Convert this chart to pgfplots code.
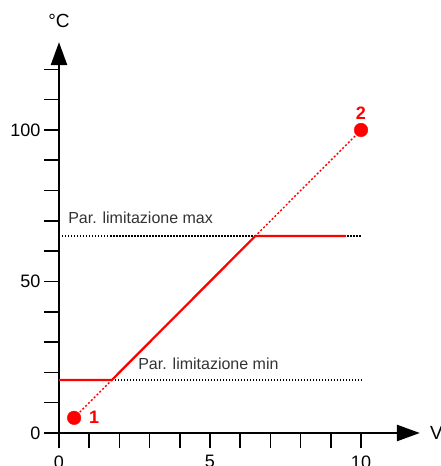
\documentclass[border=0pt]{standalone}
\usepackage{pgfplots}
\pgfplotsset{compat=1.18}
\usepackage{fontspec}
\setmainfont{Liberation Sans}
\usetikzlibrary{arrows.meta}
\definecolor{lbl}{HTML}{333333}
\begin{document}
\begin{tikzpicture}
\useasboundingbox (-59pt,-33pt) rectangle (381pt,433pt);
\begin{axis}[
  at={(0,0)}, anchor=south west,
  x=30.2pt, y=3.03pt,
  xmin=0, xmax=11.95, ymin=0, ymax=129,
  axis lines=left,
  axis line style={line width=2.5pt, -{Triangle[length=23pt,width=16pt]}},
  tick align=outside,
  major tick length=15pt,
  tick style={black, line width=1.6pt},
  xtick={0,...,10}, xticklabels={0,,,,,5,,,,,10},
  ytick={0,10,...,120}, yticklabels={0,,,,,50,,,,,100,,},
  tick label style={font=\fontsize{18}{20}\selectfont},
  xticklabel style={yshift=-4pt},
  /pgf/number format/assume math mode=true,
  clip=false,
]
% parameter limits
\addplot[black, line width=1.2pt, dash pattern=on 1.5pt off 1.5pt] coordinates {(0,65) (10,65)};
\addplot[black, line width=1.2pt, dash pattern=on 1.5pt off 1.5pt] coordinates {(1.75,17.5) (10,17.5)};
% ideal line
\addplot[red, line width=1.4pt, dash pattern=on 2pt off 2pt] coordinates {(0.5,5) (10,100)};
% limited line
\addplot[red, line width=2.2pt] coordinates {(0,17.5) (1.75,17.5) (6.5,65) (9.5,65)};
\addplot[only marks, red, mark=*, mark size=6.8pt] coordinates {(0.5,5) (10,100)};

\node[anchor=base west, text=red, font=\fontsize{18}{20}\selectfont\bfseries, inner sep=0pt] at (axis cs:0.99,3.3) {1};
\node[anchor=base, text=red, font=\fontsize{18}{20}\selectfont\bfseries, inner sep=0pt] at (axis cs:10,103.3) {2};
\node[anchor=base west, text=lbl, font=\fontsize{16}{18}\selectfont, inner sep=0pt] at (axis cs:0.3,69.3) {Par. limitazione max};
\node[anchor=base west, text=lbl, font=\fontsize{16}{18}\selectfont, inner sep=0pt] at (axis cs:2.62,20.8) {Par. limitazione min};
\node[anchor=base, font=\fontsize{19}{21}\selectfont, inner sep=0pt] at (axis cs:0,133.7) {°C};
\node[anchor=base west, font=\fontsize{19}{21}\selectfont, inner sep=0pt] at (axis cs:12.28,-2) {V};
\end{axis}
\end{tikzpicture}
\end{document}
